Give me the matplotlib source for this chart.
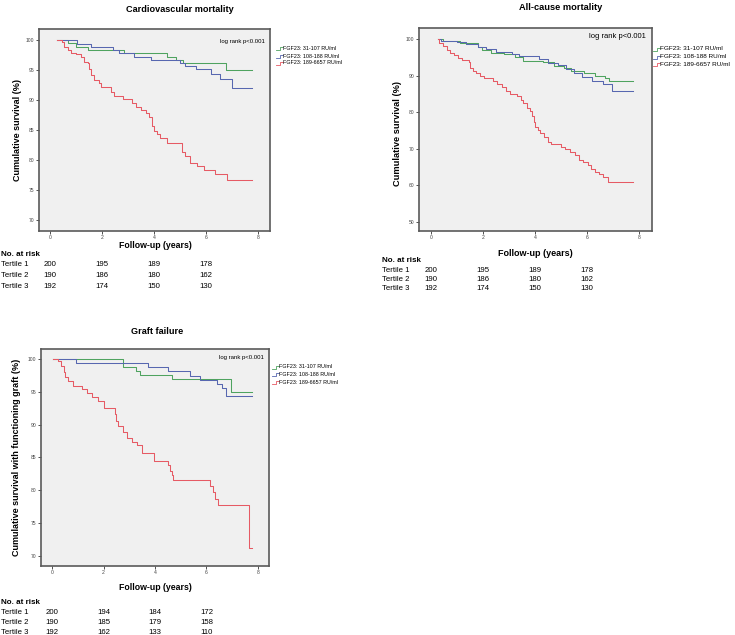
import matplotlib.pyplot as plt
from matplotlib.lines import Line2D
from matplotlib.transforms import blended_transform_factory

plt.rcParams['font.family'] = ['Liberation Sans', 'DejaVu Sans']

W, H = 735, 635

green = '#4fa35f'
blue = '#5767b0'
red = '#e65a64'
colors = [green, blue, red]

legend_labels = ['FGF23: 31-107 RU/ml', 'FGF23: 108-188 RU/ml', 'FGF23: 189-6657 RU/ml']
tertiles = ['Tertile 1', 'Tertile 2', 'Tertile 3']
risk_times = [0, 2, 4, 6]

# Cardiovascular mortality (step curves, last point = end of follow-up)
cv_green_t = [0.27, 0.69, 1.01, 1.45, 2.85, 4.51, 4.83, 5.10, 6.75, 7.76]
cv_green_s = [100, 99.5, 98.9, 98.4, 97.8, 97.2, 96.7, 96.1, 95.0, 95.0]
cv_blue_t = [0.27, 1.03, 1.59, 2.42, 2.66, 3.24, 3.87, 5.0, 5.2, 5.6, 6.2, 6.55, 7.0, 7.76]
cv_blue_s = [100, 99.4, 98.8, 98.3, 97.8, 97.2, 96.7, 96.2, 95.6, 95.1, 94.4, 93.5, 92.0, 92.0]
cv_red_t = [0.27, 0.47, 0.56, 0.69, 0.82, 1.01, 1.20, 1.32, 1.45, 1.49, 1.58, 1.71, 1.90,
            1.96, 2.34, 2.47, 2.79, 3.17, 3.30, 3.49, 3.68, 3.81, 3.94, 4.00, 4.13, 4.25,
            4.51, 5.08, 5.21, 5.40, 5.66, 5.91, 6.36, 6.80, 7.76]
cv_red_s = [100, 99.6, 98.9, 98.4, 97.8, 97.6, 97.2, 96.4, 96.1, 95.1, 94.2, 93.4, 92.8,
            92.2, 91.4, 90.7, 90.1, 89.5, 88.9, 88.4, 87.8, 87.2, 85.6, 84.8, 84.3, 83.7,
            82.8, 81.4, 80.6, 79.5, 79.0, 78.4, 77.6, 76.6, 76.6]
cv_risk = [[200, 195, 189, 178], [190, 186, 180, 162], [192, 174, 150, 130]]

# All-cause mortality
ac_green_t = [0.26, 0.45, 1.1, 1.8, 1.95, 2.3, 2.8, 3.25, 3.55, 4.3, 4.75, 5.1, 5.4, 5.9,
              6.3, 6.7, 6.85, 7.76]
ac_green_s = [100, 99.5, 98.8, 97.8, 96.9, 96.2, 95.8, 95.0, 94.0, 93.6, 92.6, 92.0, 91.2,
              90.6, 90.0, 89.2, 88.6, 88.6]
ac_blue_t = [0.26, 0.4, 1.0, 1.35, 1.8, 2.1, 2.5, 3.1, 3.4, 4.15, 4.5, 4.9, 5.2, 5.5, 5.8,
             6.2, 6.6, 6.95, 7.76]
ac_blue_s = [100, 99.5, 99.2, 98.5, 97.7, 97.2, 96.4, 95.8, 95.3, 94.5, 93.5, 92.8, 91.8,
             90.6, 89.6, 88.6, 87.8, 85.8, 85.8]
ac_red_t = [0.26, 0.32, 0.45, 0.6, 0.75, 0.9, 1.05, 1.2, 1.45, 1.5, 1.6, 1.75, 1.9, 2.05,
            2.4, 2.55, 2.75, 2.9, 3.05, 3.3, 3.45, 3.55, 3.7, 3.8, 3.9, 3.95, 4.0, 4.1, 4.2,
            4.35, 4.5, 4.6, 5.0, 5.15, 5.35, 5.55, 5.7, 5.85, 6.05, 6.15, 6.3, 6.45, 6.6,
            6.8, 7.77]
ac_red_s = [100, 99.0, 98.0, 97.0, 96.2, 95.5, 94.8, 94.2, 93.6, 92.0, 91.3, 90.6, 89.9,
            89.2, 88.5, 87.7, 86.8, 85.8, 85.0, 84.3, 83.4, 82.4, 81.0, 80.2, 78.9, 77.2,
            76.0, 75.0, 74.2, 73.2, 71.8, 71.2, 70.6, 69.8, 69.0, 68.3, 67.0, 66.4, 65.6,
            64.4, 63.6, 63.0, 62.2, 61.0, 61.0]
ac_risk = [[200, 195, 189, 178], [190, 186, 180, 162], [192, 174, 150, 130]]

# Graft failure
gf_green_t = [0.04, 2.75, 3.25, 3.4, 4.65, 6.95, 7.77]
gf_green_s = [100, 98.7, 98.1, 97.5, 96.9, 95.0, 95.0]
gf_blue_t = [0.04, 0.92, 3.73, 4.5, 5.35, 5.74, 6.39, 6.62, 6.77, 7.77]
gf_blue_s = [100, 99.4, 98.8, 98.1, 97.4, 96.8, 96.2, 95.6, 94.4, 94.4]
gf_red_t = [0.04, 0.22, 0.35, 0.45, 0.52, 0.6, 0.8, 1.15, 1.35, 1.55, 1.8, 2.0, 2.45, 2.5,
            2.55, 2.75, 2.9, 3.1, 3.3, 3.5, 3.95, 4.5, 4.6, 4.65, 4.7, 6.15, 6.25, 6.35,
            6.45, 7.65, 7.77]
gf_red_s = [100, 99.6, 98.9, 98.0, 97.2, 96.6, 95.8, 95.4, 94.8, 94.2, 93.6, 92.5, 91.6,
            90.6, 89.8, 88.9, 88.0, 87.4, 86.9, 85.6, 84.5, 83.8, 83.0, 82.3, 81.5, 80.6,
            79.8, 78.6, 77.7, 71.2, 71.2]
gf_risk = [[200, 194, 184, 172], [190, 185, 179, 158], [192, 162, 133, 110]]


def fx(px):
    return px / W


def fy(py):
    return 1 - py / H


def ftext(fig, x, y, s, **kw):
    fig.text(fx(x), fy(y), s, va='center', **kw)


def make_axes(fig, box, xlim, ylim, yticks):
    x0, y0, x1, y1 = box
    ax = fig.add_axes([fx(x0), fy(y1), (x1 - x0) / W, (y1 - y0) / H])
    ax.set_facecolor('#f0f0f0')
    ax.set_xlim(xlim)
    ax.set_ylim(ylim)
    ax.set_xticks([0, 2, 4, 6, 8])
    ax.set_yticks(yticks)
    ax.tick_params(length=2.2, width=0.6, labelsize=3.6, pad=1.0,
                   colors='#333333', labelcolor='#444444')
    for sp in ax.spines.values():
        sp.set_color('#5a5a5a')
        sp.set_linewidth(1.2)
    return ax


def draw_curves(ax, curves):
    for (t, s), c in zip(curves, colors):
        ax.step(t, s, where='post', color=c, lw=0.75)


def draw_legend(fig, x, ys, size):
    for y, c, lab in zip(ys, colors, legend_labels):
        fig.add_artist(Line2D([fx(x), fx(x + 3.5), fx(x + 3.5), fx(x + 7)],
                              [fy(y + 1.5), fy(y + 1.5), fy(y - 1.5), fy(y - 1.5)],
                              transform=fig.transFigure, color=c, lw=0.6))
        ftext(fig, x + 7, y, lab, fontsize=size, ha='left')


def draw_risk(fig, ax, xleft, ys, risk):
    tr = blended_transform_factory(ax.transData, fig.transFigure)
    ftext(fig, xleft, ys[0], 'No. at risk', fontsize=5.8, fontweight='bold', ha='left')
    for y, name, row in zip(ys[1:], tertiles, risk):
        ftext(fig, xleft, y, name, fontsize=5.6, ha='left')
        for t, n in zip(risk_times, row):
            fig.text(t, fy(y), str(n), transform=tr, fontsize=5.6, ha='center', va='center')


fig = plt.figure(figsize=(W / 100, H / 100), dpi=100)

# panel 1: cardiovascular mortality
ax1 = make_axes(fig, (39, 29, 270, 231), (-0.42, 8.46), (68.17, 101.83), [70, 75, 80, 85, 90, 95, 100])
draw_curves(ax1, [(cv_green_t, cv_green_s), (cv_blue_t, cv_blue_s), (cv_red_t, cv_red_s)])
ftext(fig, 180, 10, 'Cardiovascular mortality', fontsize=6.6, fontweight='bold', ha='center')
ftext(fig, 265, 41, 'log rank p<0.001', fontsize=4.3, ha='right')
ftext(fig, 155, 246, 'Follow-up (years)', fontsize=6.3, fontweight='bold', ha='center')
fig.text(fx(18), fy(130), 'Cumulative survival (%)', fontsize=6.5, fontweight='bold',
         rotation=90, ha='center', va='center')
draw_legend(fig, 276, [48, 56, 63], 3.9)
draw_risk(fig, ax1, 1, [255, 265, 276, 287], cv_risk)

# panel 2: all-cause mortality
ax2 = make_axes(fig, (419, 28, 652, 231), (-0.46, 8.5), (47.5, 103.0), [50, 60, 70, 80, 90, 100])
draw_curves(ax2, [(ac_green_t, ac_green_s), (ac_blue_t, ac_blue_s), (ac_red_t, ac_red_s)])
ftext(fig, 561, 7, 'All-cause mortality', fontsize=6.7, fontweight='bold', ha='center')
ftext(fig, 646, 37, 'log rank p<0.001', fontsize=5.5, ha='right')
ftext(fig, 535, 254, 'Follow-up (years)', fontsize=6.5, fontweight='bold', ha='center')
fig.text(fx(397), fy(134), 'Cumulative survival (%)', fontsize=6.7, fontweight='bold',
         rotation=90, ha='center', va='center')
draw_legend(fig, 653, [49, 57, 64], 4.6)
draw_risk(fig, ax2, 382, [261, 270, 279, 289], ac_risk)

# panel 3: graft failure
ax3 = make_axes(fig, (41, 349, 269, 566), (-0.43, 8.43), (68.48, 101.5), [70, 75, 80, 85, 90, 95, 100])
draw_curves(ax3, [(gf_green_t, gf_green_s), (gf_blue_t, gf_blue_s), (gf_red_t, gf_red_s)])
ftext(fig, 157, 331, 'Graft failure', fontsize=6.6, fontweight='bold', ha='center')
ftext(fig, 264, 357, 'log rank p<0.001', fontsize=4.3, ha='right')
ftext(fig, 155, 588, 'Follow-up (years)', fontsize=6.3, fontweight='bold', ha='center')
fig.text(fx(17), fy(457), 'Cumulative survival with functioning graft (%)', fontsize=6.5,
         fontweight='bold', rotation=90, ha='center', va='center')
draw_legend(fig, 272, [367, 374, 382], 3.9)
draw_risk(fig, ax3, 1, [602, 612, 622, 632], gf_risk)

fig.savefig('out.png', dpi=100)
